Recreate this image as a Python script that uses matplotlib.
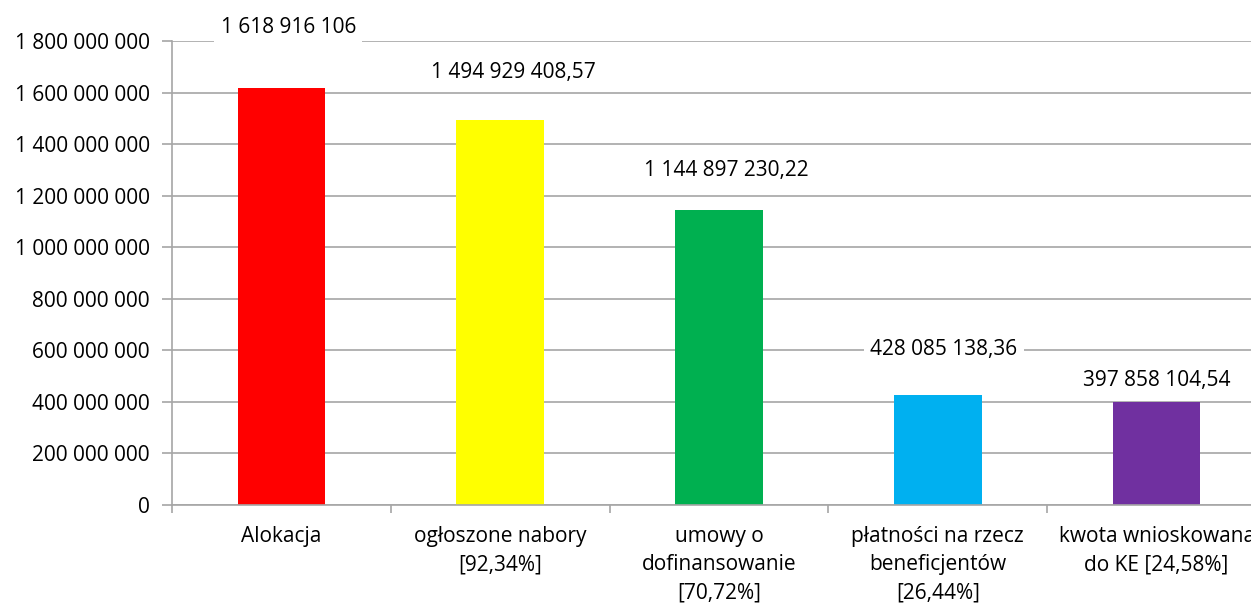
import numpy as np
import matplotlib.pyplot as plt
from matplotlib.ticker import FuncFormatter, FixedLocator

plt.rcParams['font.family'] = ['Open Sans', 'DejaVu Sans']

categories = ['Alokacja', 'ogłoszone nabory\n[92,34%]', 'umowy o\ndofinansowanie\n[70,72%]',
              'płatności na rzecz\nbeneficjentów\n[26,44%]', 'kwota wnioskowana\ndo KE [24,58%]']
values = [1618916106, 1494929408.57, 1144897230.22, 428085138.36, 397858104.54]
value_labels = ['1 618 916 106', '1 494 929 408,57', '1 144 897 230,22', '428 085 138,36', '397 858 104,54']
colors = ['#FF0000', '#FFFF00', '#00B050', '#00B0F0', '#7030A0']

# label offsets in pixels (dx, dy above bar top), placed by hand in the original
label_offsets = [(7, 60), (13, 47), (7, 39), (6, 45), (0, 22)]

fig = plt.figure(figsize=(12.51, 6.05), dpi=100)
ax = fig.add_axes([172 / 1251, 100 / 605, 1094 / 1251, 464 / 605])

x = np.arange(len(categories))
ax.bar(x, values, width=0.40, color=colors, zorder=2)

ax.set_xlim(-0.5, 4.5)
ax.set_ylim(0, 1.8e9)
ax.set_yticks(np.arange(0, 1.8e9 + 1, 2e8))
ax.yaxis.set_major_formatter(FuncFormatter(lambda v, p: '{:,.0f}'.format(v).replace(',', ' ')))
ax.grid(axis='y', color='#a6a6a6', linewidth=1.2, zorder=0)
ax.set_axisbelow(True)

for s in ['top', 'right']:
    ax.spines[s].set_visible(False)
for s in ['left', 'bottom']:
    ax.spines[s].set_color('#a6a6a6')
    ax.spines[s].set_linewidth(1.2)

ax.tick_params(axis='y', colors='#a6a6a6', length=7, width=1.2, labelsize=15, labelcolor='black', pad=9)
ax.set_xticks(x)
ax.set_xticklabels(categories, fontsize=15, linespacing=1.45)
ax.tick_params(axis='x', which='major', length=0, pad=15)
ax.xaxis.set_minor_locator(FixedLocator(np.arange(-0.5, 5, 1)))
ax.tick_params(axis='x', which='minor', colors='#a6a6a6', length=6, width=1.2)

for i in range(len(values)):
    dx, dy = label_offsets[i]
    ax.annotate(value_labels[i], (x[i], values[i]), xytext=(dx * 0.72, dy * 0.72),
                textcoords='offset points', ha='center', va='center', fontsize=15,
                annotation_clip=False, zorder=3,
                bbox=dict(boxstyle='square,pad=0.3', facecolor='white', edgecolor='none'))

fig.savefig('out.png', dpi=100)
